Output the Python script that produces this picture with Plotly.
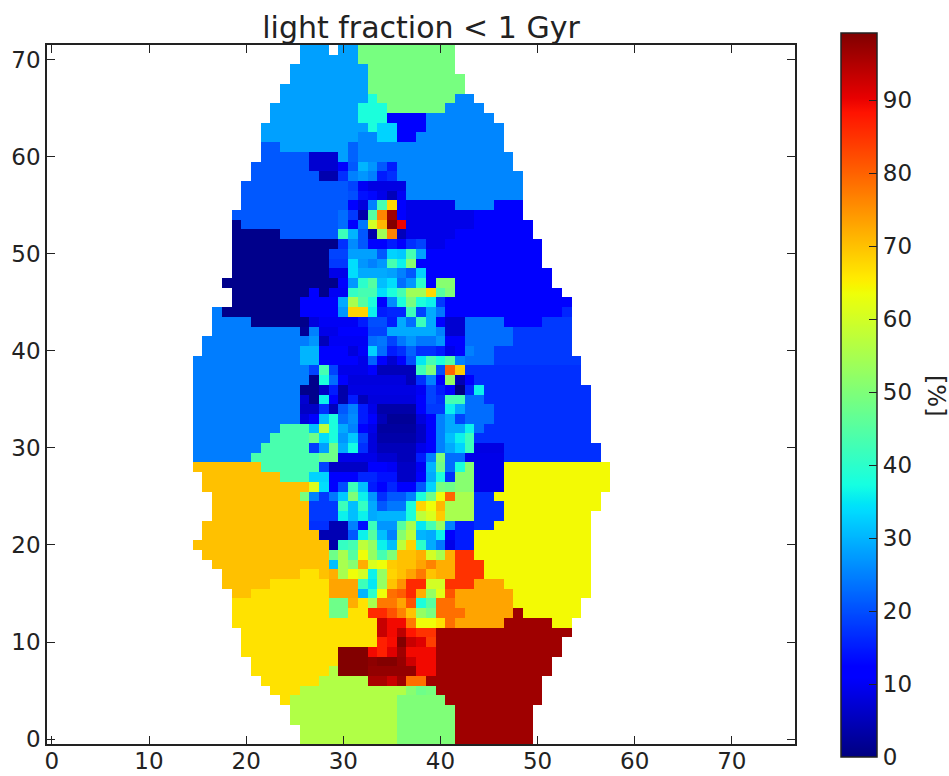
import numpy as np
import plotly.graph_objects as go

# region values (percent)
LB, GT, C, D, BL, NV, E, F, G = 28, 49, 25.5, 21, 12, 1, 24.5, 19, 43.5
O, YB, Y, OR, RD, R, DR, LM, G3 = 70, 66.5, 64, 73, 85, 96.5, 99, 56, 50

# (first column, last column, value) runs, row by row
rows = {
71: [(26,28,LB),(30,31,LB),(32,41,GT)],
70: [(26,31,LB),(32,41,GT)],
69: [(25,32,LB),(33,41,GT)],
68: [(25,32,LB),(33,42,GT)],
67: [(24,32,LB),(33,42,GT)],
66: [(24,32,LB),(33,33,38),(34,41,GT),(42,43,C)],
65: [(23,31,LB),(32,34,38),(35,40,GT),(41,44,C)],
64: [(23,31,LB),(32,34,38),(35,38,BL),(39,45,C)],
63: [(22,32,LB),(33,33,38),(34,35,33),(36,38,BL),(39,46,C)],
62: [(22,31,LB),(32,33,C),(34,35,33),(36,37,BL),(38,46,C)],
61: [(22,23,D),(24,30,LB),(31,31,22),(32,46,C)],
60: [(22,26,D),(27,29,7),(30,30,LB),(31,31,22),(32,47,C)],
59: [(21,26,D),(27,29,7),(30,30,BL),(31,31,21),(32,32,30),(33,33,27),(34,34,21),(35,35,15),(36,47,C)],
58: [(21,27,D),(28,29,4),(30,30,17),(31,31,25),(32,32,27),(33,33,25),(34,34,15),(35,35,17),(36,48,C)],
57: [(20,30,D),(31,31,19),(32,32,10),(33,36,8.5),(37,48,C)],
56: [(20,30,D),(31,31,20),(32,32,14),(33,33,13),(34,34,9),(35,35,5),(36,36,10),(37,48,C)],
55: [(20,30,D),(31,31,BL),(32,32,8),(33,33,25),(34,34,43),(35,35,67.5),(36,36,BL),(37,41,9),(42,45,C),(46,48,BL)],
54: [(19,29,D),(30,30,23),(31,31,18),(32,32,3.6),(33,33,45),(34,34,76.5),(35,35,96.5),(36,36,BL),(37,43,9),(44,48,BL)],
53: [(19,19,NV),(20,29,D),(30,30,23),(31,31,BL),(32,32,24),(33,33,60),(34,34,71),(35,35,99),(36,36,90),(37,43,9),(44,49,BL)],
52: [(19,23,NV),(24,29,D),(30,30,42),(31,31,30),(32,32,21),(33,33,3.6),(34,34,54),(35,35,76.5),(36,36,5),(37,41,9),(42,49,BL)],
51: [(19,29,NV),(30,30,17),(31,31,26),(32,32,21),(33,34,BL),(35,35,15),(36,36,BL),(37,37,17),(38,38,19),(39,40,9),(41,50,BL)],
50: [(19,28,NV),(29,30,19),(31,33,28),(34,34,21),(35,35,33),(36,36,32),(37,37,43),(38,38,28),(39,50,BL)],
49: [(19,28,NV),(29,30,18),(31,31,34),(32,32,27),(33,33,25),(34,34,27),(35,35,43),(36,36,36),(37,37,51),(38,50,BL)],
48: [(19,28,NV),(29,30,9),(31,31,34),(32,34,29),(35,35,28),(36,36,25),(37,37,21),(38,38,33),(39,51,BL)],
47: [(18,29,NV),(30,30,BL),(31,31,27),(32,32,40),(33,33,45),(34,34,31),(35,35,34),(36,36,23),(37,37,27),(38,38,40),(39,39,BL),(40,41,51),(42,51,BL)],
46: [(19,26,NV),(27,27,BL),(28,28,NV),(29,30,10),(31,31,41),(32,32,43),(33,33,43),(34,34,34),(35,35,38),(36,36,43),(37,38,54),(39,39,67.5),(40,40,45),(41,41,50),(42,52,BL)],
45: [(19,25,NV),(26,29,BL),(30,30,29),(31,31,55),(32,32,45),(33,33,38),(34,34,BL),(35,35,26),(36,36,38),(37,37,49),(38,38,38),(39,39,36),(40,40,18),(41,53,BL)],
44: [(17,17,E),(18,25,NV),(26,29,BL),(30,30,27),(31,32,68),(33,33,36),(34,34,15),(35,36,16),(37,37,42),(38,38,19),(39,39,29),(40,40,24),(41,52,BL),(53,53,16)],
43: [(17,20,E),(21,26,NV),(27,27,8),(28,31,10),(32,32,15),(33,34,20),(35,35,15),(36,36,29),(37,37,23),(38,38,42),(39,39,29),(40,40,BL),(41,42,7),(43,46,23),(47,50,BL),(51,53,18)],
42: [(17,25,E),(26,26,2),(27,27,25),(28,29,9),(30,31,11),(32,32,BL),(33,34,19),(35,39,29),(40,40,25),(41,42,7),(43,47,23),(48,53,18)],
41: [(16,26,E),(27,27,27),(28,28,5),(29,32,10),(33,33,23),(34,34,24),(35,35,19),(36,36,24),(37,37,27),(38,39,24),(40,40,27),(41,42,BL),(43,47,23),(48,53,18)],
40: [(16,25,E),(26,27,30),(28,30,BL),(31,31,8),(32,32,10.5),(33,33,33),(34,34,23),(35,35,15),(36,36,17),(37,37,22),(38,39,17),(40,40,15),(41,41,9),(42,42,BL),(43,43,25),(44,45,23),(46,53,18)],
39: [(15,25,E),(26,27,30),(28,31,11),(32,32,9),(33,33,22),(34,34,BL),(35,35,7),(36,36,BL),(37,37,20),(38,38,35),(39,39,43),(40,40,38),(41,41,45),(42,42,25),(43,45,23),(46,54,18)],
38: [(15,26,E),(27,27,19),(28,28,43),(29,29,19),(30,32,9),(33,33,BL),(34,37,5),(38,38,42),(39,39,50),(40,40,20),(41,41,79.6),(42,42,69),(43,54,17)],
37: [(15,26,E),(27,27,1),(28,28,38),(29,29,23),(30,30,BL),(31,36,8),(37,37,5),(38,38,17),(39,39,25),(40,40,BL),(41,41,52.6),(42,42,4.5),(43,43,BL),(44,54,17)],
36: [(15,25,E),(26,27,NV),(28,28,6),(29,29,15),(30,30,3.6),(31,37,8.5),(38,38,10),(39,39,19),(40,40,15),(41,41,BL),(42,42,0),(43,43,16),(44,44,36),(45,55,17)],
35: [(15,25,E),(26,26,7),(27,27,NV),(28,28,36),(29,29,BL),(30,30,3.6),(31,31,15),(32,32,5),(33,37,8),(38,38,BL),(39,39,19),(40,40,17),(41,42,43),(43,44,23),(45,55,17)],
34: [(15,25,E),(26,27,6),(28,28,17),(29,29,5),(30,30,21),(31,31,25),(32,32,15),(33,33,9),(34,37,3.6),(38,38,BL),(39,40,18),(41,41,36),(42,42,29),(43,45,23),(46,55,17)],
33: [(15,25,E),(26,26,8),(27,27,BL),(28,28,31),(29,29,38),(30,30,23),(31,31,26),(32,32,15),(33,33,BL),(34,34,5),(35,37,2),(38,38,8),(39,39,BL),(40,40,25),(41,41,29),(42,42,19),(43,45,23),(46,55,17)],
32: [(15,23,E),(24,26,G),(27,27,31),(28,28,57.5),(29,29,38),(30,30,29),(31,31,25),(32,32,BL),(33,33,9),(34,37,2.8),(38,38,6),(39,39,BL),(40,40,25),(41,42,29),(43,43,36),(44,44,23),(45,55,17)],
31: [(15,22,E),(23,26,G),(27,27,48),(28,28,34),(29,29,38),(30,30,27),(31,31,32),(32,32,19),(33,33,8),(34,37,3.6),(38,38,6),(39,39,BL),(40,40,25),(41,41,31),(42,42,36),(43,43,42),(44,55,17)],
30: [(15,21,E),(22,26,G),(27,27,18),(28,28,28),(29,29,48),(30,30,29),(31,31,37),(32,32,17),(33,33,8),(34,37,5),(38,38,9),(39,39,BL),(40,40,25),(41,41,29),(42,42,33),(43,43,42),(44,46,8.5),(47,56,17)],
29: [(15,20,E),(21,27,G),(28,29,48),(30,33,9),(34,35,7),(36,37,5),(38,38,15),(39,39,25),(40,40,50),(41,42,23),(43,46,9),(47,56,17)],
28: [(15,21,O),(22,27,G),(28,28,19),(29,32,6),(33,34,BL),(35,35,10),(36,37,6),(38,38,10),(39,39,30),(40,40,48),(41,41,23),(42,42,38),(43,43,51),(44,46,9),(47,57,Y)],
27: [(16,23,O),(24,26,G),(27,28,33),(29,31,BL),(32,33,16),(34,35,14),(36,37,6),(38,38,BL),(39,39,29),(40,40,38),(41,41,17),(42,43,51),(44,46,9),(47,57,Y)],
26: [(16,26,O),(27,27,61),(28,28,34),(29,29,BL),(30,30,20),(31,31,42),(32,32,31),(33,33,15),(34,34,BL),(35,35,16),(36,37,BL),(38,38,21),(39,39,33),(40,40,49),(41,41,48),(42,43,51),(44,46,9),(47,57,Y)],
25: [(17,25,O),(26,26,49),(27,27,25),(28,28,18),(29,29,24),(30,30,32),(31,31,50),(32,32,36),(33,33,27),(34,34,17),(35,36,21),(37,37,25),(38,38,38),(39,39,48),(40,40,63.5),(41,41,79.6),(42,43,55),(44,45,17),(46,56,Y)],
24: [(17,26,O),(27,29,18),(30,30,42),(31,31,31),(32,32,41),(33,33,29),(34,34,21),(35,36,24),(37,37,38),(38,38,68),(39,39,63.5),(40,40,71),(41,43,55),(44,46,17),(47,56,Y)],
23: [(17,26,O),(27,29,18),(30,30,36),(31,31,31),(32,32,36),(33,33,29),(34,36,30),(37,37,38),(38,38,57.5),(39,39,61),(40,40,69),(41,43,55),(44,46,17),(47,55,Y)],
22: [(16,26,O),(27,28,17),(29,30,4.5),(31,31,25),(32,32,14),(33,33,42),(34,35,27),(36,36,45),(37,37,55),(38,38,35),(39,39,43),(40,40,52.6),(41,41,25),(42,43,15),(44,45,17),(46,55,Y)],
21: [(16,27,O),(28,30,4.5),(31,31,21),(32,32,36),(33,33,45),(34,34,31),(35,35,25),(36,36,51),(37,37,57.5),(38,38,30),(39,39,29),(40,40,36),(41,41,BL),(42,43,15),(44,55,Y)],
20: [(15,28,O),(29,29,3.6),(30,30,41),(31,31,43),(32,32,57.5),(33,33,52.6),(34,34,36),(35,35,31),(36,36,57.5),(37,37,68),(38,38,40),(39,39,29),(40,40,24),(41,41,9),(42,43,15),(44,55,Y)],
19: [(16,28,O),(29,29,48),(30,30,55),(31,31,45),(32,32,63.5),(33,33,52.6),(34,34,43),(35,35,50),(36,37,70),(38,38,72),(39,39,60),(40,40,55),(41,41,72),(42,43,RD),(44,55,Y)],
18: [(17,28,O),(29,29,31),(30,30,55),(31,31,51),(32,32,72),(33,33,61),(34,34,63.5),(35,35,69),(36,37,70),(38,38,73),(39,39,76.5),(40,41,72),(42,44,RD),(45,55,Y)],
17: [(18,25,O),(26,27,YB),(28,28,O),(29,29,72),(30,30,55),(31,31,63.5),(32,32,60),(33,33,36),(34,34,52.6),(35,35,68),(36,36,70),(37,37,73),(38,38,77.5),(39,39,69.7),(40,41,72),(42,44,RD),(45,55,Y)],
16: [(18,22,O),(23,28,YB),(29,31,OR),(32,32,42),(33,33,35),(34,34,52.6),(35,35,69.7),(36,36,75),(37,38,86),(39,40,60),(41,43,RD),(44,46,OR),(47,55,Y)],
15: [(19,20,O),(21,28,YB),(29,31,OR),(32,32,30),(33,33,40),(34,34,63.5),(35,35,78.6),(36,36,80.6),(37,37,86),(38,38,72),(39,39,52.6),(40,40,62),(41,41,81.7),(42,47,OR),(48,55,Y)],
14: [(19,28,YB),(29,30,48),(31,31,72),(32,32,YB),(33,33,55),(34,35,77.5),(36,36,73),(37,37,81.7),(38,38,38),(39,39,45),(40,41,78.6),(42,47,OR),(48,54,Y)],
13: [(19,28,YB),(29,30,48),(31,32,YB),(33,34,86),(35,35,81.7),(36,36,76.5),(37,37,69.7),(38,38,52.6),(39,39,49),(40,42,78.6),(43,47,OR),(48,48,R),(49,54,Y)],
12: [(19,33,YB),(34,34,93),(35,36,89.4),(37,37,77.5),(38,39,63.5),(40,40,YB),(41,41,78.6),(42,46,OR),(47,51,R),(52,53,Y)],
11: [(20,33,YB),(34,34,93),(35,35,89.4),(36,36,94),(37,37,88),(38,39,RD),(40,53,R)],
10: [(20,33,YB),(34,34,87),(35,35,89),(36,36,99),(37,37,93),(38,38,91),(39,39,83.8),(40,52,R)],
9: [(20,29,YB),(30,32,DR),(33,33,89.4),(34,34,87),(35,35,91),(36,36,96.6),(37,39,89.4),(40,52,R)],
8: [(21,29,YB),(30,32,DR),(33,33,98),(34,35,DR),(36,36,97.3),(37,37,92.6),(38,39,89.4),(40,51,R)],
7: [(21,28,YB),(29,29,LM),(30,32,DR),(33,37,97.5),(38,39,89.4),(40,51,R)],
6: [(22,27,YB),(28,32,LM),(33,34,95.6),(35,35,93),(36,36,96.6),(37,38,78.6),(39,50,R)],
5: [(23,25,YB),(26,36,LM),(37,37,51),(38,38,48),(39,39,49),(40,50,R)],
4: [(24,24,YB),(25,35,LM),(36,40,G3),(41,50,R)],
3: [(25,35,LM),(36,41,G3),(42,49,R)],
2: [(25,35,LM),(36,41,G3),(42,49,R)],
1: [(26,35,LM),(36,41,G3),(42,49,R)],
0: [(26,35,LM),(36,41,G3),(42,49,R)],
}

n_cols, n_rows = 77, 72
z = np.full((n_rows, n_cols), np.nan)
for y, runs in rows.items():
    for a, b, v in runs:
        z[y, a:b + 1] = v

# matplotlib "jet"
t = np.linspace(0, 1, 256)
red = np.interp(t, [0, .35, .66, .89, 1], [0, 0, 1, 1, .5])
grn = np.interp(t, [0, .125, .375, .64, .91, 1], [0, 0, 1, 1, 0, 0])
blu = np.interp(t, [0, .11, .34, .65, 1], [.5, 1, 1, 0, 0])
jet = [[float(f), f"rgb({r*255:.0f},{g*255:.0f},{b*255:.0f})"] for f, r, g, b in zip(t, red, grn, blu)]

W, H = 949, 776
PL, PR, PT, PB = 47, 795, 45, 744
pw, ph = PR - PL, PB - PT
FONT = "DejaVu Sans"
fig = go.Figure(go.Heatmap(
    z=z, x0=0, dx=1, y0=0, dy=1, zmin=0, zmax=99.2, colorscale=jet, hoverongaps=False,
    colorbar=dict(
        thickness=36, thicknessmode="pixels", len=724, lenmode="pixels",
        x=(841 - PL) / pw, y=(PB - 757) / ph,
        xanchor="left", yanchor="bottom", xpad=0, ypad=0,
        outlinecolor="#222", outlinewidth=1.5,
        tickvals=list(range(0, 100, 10)), ticks="inside", ticklen=8, tickcolor="#222", tickwidth=1,
        tickfont=dict(family=FONT, size=23, color="#222"),
    ),
))
axis = dict(
    showgrid=False, zeroline=False, showline=True, linecolor="#222", linewidth=1.5,
    mirror="ticks", ticks="inside", ticklen=8, tickcolor="#222", tickwidth=1,
    tickvals=list(range(0, 71, 10)), tickfont=dict(family=FONT, size=23, color="#222"),
)
fig.update_xaxes(range=[-0.5, 76.5], ticklabelstandoff=-4, **axis)
fig.update_yaxes(range=[-0.5, 71.5], **axis)
fig.update_layout(
    width=W, height=H, autosize=False, paper_bgcolor="white", plot_bgcolor="white",
    margin=dict(l=PL, r=W - PR, t=PT, b=H - PB, autoexpand=False),
    title=dict(text="light fraction &lt; 1 Gyr", x=421 / W, xanchor="center", y=1 - 27 / H, yanchor="middle",
               font=dict(family=FONT, size=30, color="#222")),
    annotations=[dict(text="[%]", xref="paper", yref="paper", x=(936 - PL) / pw, y=(PB - 396) / ph,
                      xanchor="center", yanchor="middle", textangle=90, showarrow=False,
                      font=dict(family=FONT, size=24, color="#222"))],
)
fig.write_html("out.html", config={"displayModeBar": False}, post_script="document.body.style.margin='0';")
